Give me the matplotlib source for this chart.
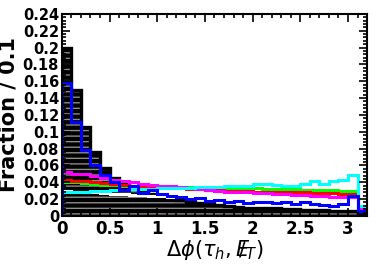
import numpy as np
import matplotlib.pyplot as plt
from matplotlib.ticker import MultipleLocator, FuncFormatter

edges = np.append(np.arange(0, 3.2, 0.1), 3.2)

black = [0.200, 0.150, 0.106, 0.076, 0.057, 0.045, 0.038, 0.033, 0.029, 0.026,
         0.023, 0.021, 0.019, 0.017, 0.015, 0.014, 0.013, 0.012, 0.011, 0.010,
         0.010, 0.009, 0.009, 0.008, 0.008, 0.007, 0.007, 0.007, 0.006, 0.006,
         0.006, 0.003]
blue = [0.158, 0.112, 0.078, 0.061, 0.049, 0.040, 0.031, 0.036, 0.027, 0.031,
        0.026, 0.024, 0.022, 0.020, 0.021, 0.018, 0.019, 0.016, 0.018, 0.015,
        0.017, 0.016, 0.015, 0.017, 0.014, 0.016, 0.014, 0.013, 0.012, 0.014,
        0.024, 0.006]
magenta = [0.052, 0.050, 0.050, 0.047, 0.045, 0.043, 0.041, 0.040, 0.038, 0.037,
           0.036, 0.035, 0.034, 0.033, 0.032, 0.031, 0.030, 0.029, 0.028, 0.028,
           0.027, 0.027, 0.026, 0.026, 0.025, 0.025, 0.024, 0.024, 0.023, 0.023,
           0.022, 0.010]
green = [0.040, 0.040, 0.039, 0.038, 0.037, 0.037, 0.036, 0.036, 0.035, 0.035,
         0.035, 0.035, 0.034, 0.034, 0.034, 0.034, 0.033, 0.033, 0.033, 0.033,
         0.033, 0.032, 0.032, 0.032, 0.032, 0.031, 0.031, 0.031, 0.031, 0.030,
         0.030, 0.012]
red = [0.043, 0.042, 0.041, 0.040, 0.039, 0.038, 0.037, 0.036, 0.035, 0.034,
       0.034, 0.033, 0.033, 0.032, 0.032, 0.031, 0.031, 0.030, 0.030, 0.030,
       0.029, 0.029, 0.029, 0.028, 0.028, 0.028, 0.027, 0.027, 0.027, 0.026,
       0.026, 0.010]
cyan = [0.029, 0.028, 0.029, 0.030, 0.030, 0.031, 0.031, 0.032, 0.032, 0.032,
        0.033, 0.033, 0.033, 0.033, 0.034, 0.034, 0.034, 0.035, 0.035, 0.035,
        0.038, 0.038, 0.037, 0.036, 0.036, 0.038, 0.041, 0.038, 0.041, 0.043,
        0.049, 0.012]
white = [0.030, 0.029, 0.028, 0.028, 0.027, 0.026, 0.026, 0.025, 0.025, 0.024,
         0.024, 0.023, 0.023, 0.022, 0.022, 0.021, 0.021, 0.021, 0.020, 0.020,
         0.020, 0.019, 0.019, 0.019, 0.019, 0.018, 0.018, 0.018, 0.018, 0.018,
         0.017, 0.008]

plt.rcParams['hatch.linewidth'] = 1.0

fig = plt.figure(figsize=(3.82, 2.73), dpi=100)
ax = fig.add_axes([0.162, 0.209, 0.799, 0.740])

ax.stairs(black, edges, fill=True, facecolor='black', edgecolor='none')
ax.stairs(black, edges, fill=True, facecolor='none', edgecolor='#8c8c8c',
          hatch='---', linewidth=0)
ax.stairs(black, edges, color='black', linewidth=2.4)

lw = 2.2
ax.stairs(white, edges, color='white', linewidth=lw)
ax.stairs(green, edges, color='#00ff00', linewidth=lw)
ax.stairs(red, edges, color='#ff0000', linewidth=lw)
ax.stairs(magenta, edges, color='#ff00ff', linewidth=lw)
ax.stairs(cyan, edges, color='#00ffff', linewidth=lw)
ax.stairs(blue, edges, color='#0000ff', linewidth=lw)

ax.set_xlim(0, 3.2)
ax.set_ylim(0, 0.24)
ax.xaxis.set_major_locator(MultipleLocator(0.5))
ax.xaxis.set_minor_locator(MultipleLocator(0.1))
ax.yaxis.set_major_locator(MultipleLocator(0.02))
ax.yaxis.set_minor_locator(MultipleLocator(0.004))
fmt = FuncFormatter(lambda v, p: ('%.2f' % v).rstrip('0').rstrip('.'))
ax.xaxis.set_major_formatter(fmt)
ax.yaxis.set_major_formatter(fmt)
ax.tick_params(which='both', direction='in', top=True, right=True, width=1.2)
ax.tick_params(which='major', length=6)
ax.tick_params(which='minor', length=3)
for lab in ax.get_xticklabels() + ax.get_yticklabels():
    lab.set_fontweight('bold')
ax.tick_params(axis='x', labelsize=12, pad=3)
ax.tick_params(axis='y', labelsize=10.5, pad=2)
for s in ax.spines.values():
    s.set_linewidth(1.5)

ax.set_ylabel('Fraction / 0.1', fontsize=15, fontweight='bold', labelpad=3)
ax.set_xlabel(r'$\Delta\phi(\tau_{h},E\!\!\!/_{T})$', fontsize=15, labelpad=0)

fig.savefig('out.png', dpi=100)
